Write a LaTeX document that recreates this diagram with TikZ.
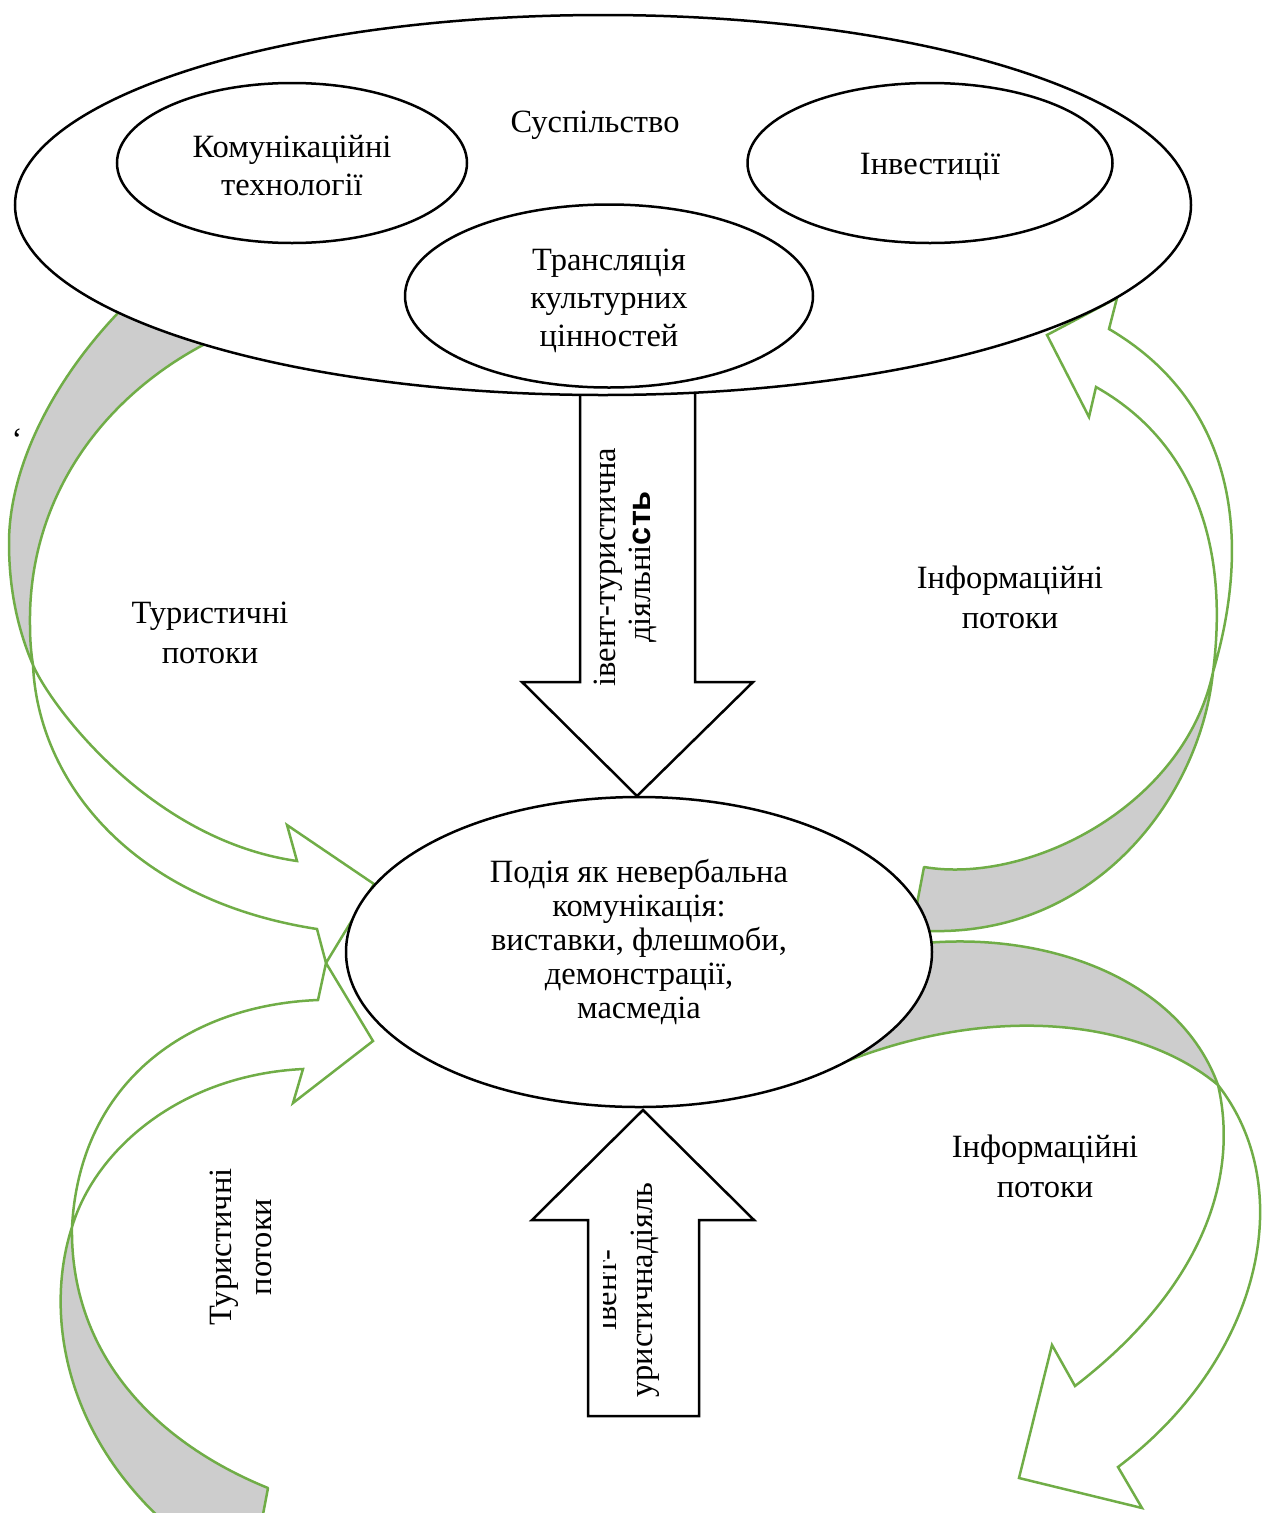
\documentclass[tikz,border=0pt]{standalone}
\usepackage{fontspec}
\setmainfont{Liberation Serif}
\newfontfamily\sansfam{Liberation Sans}
\usetikzlibrary{shapes.geometric}
\definecolor{flowgreen}{RGB}{112,173,71}
\definecolor{bandgray}{RGB}{205,205,205}
\newcommand\dfont{\fontsize{32.5}{38}\selectfont}
\newcommand\wfont{\fontsize{32.5}{40}\selectfont}
\newcommand\cfont{\fontsize{32.5}{34}\selectfont}
\begin{document}
\begin{tikzpicture}[x=1pt,y=-1pt,
  ell/.style={ellipse, draw=black, line width=2.5pt, fill=white, inner sep=0pt},
  flow/.style={draw=flowgreen, line width=2.5pt, line join=miter},
  band/.style={fill=bandgray, draw=flowgreen, line width=2.5pt, line join=round},
  blockarrow/.style={draw=black, line width=2.5pt, fill=white, line join=miter},
  lbl/.style={font=\dfont, align=center, inner sep=0pt},
  wlbl/.style={font=\wfont, align=center, inner sep=0pt},
  vlbl/.style={font=\dfont, inner sep=0pt, anchor=base, rotate=90}
]
\useasboundingbox (0,0) rectangle (1271,1513);
\clip (0,0) rectangle (1271,1513);

% ---- curved flow arrows ----
% top-left (tourist flows, down to the event)
\filldraw[band] (135,294) -- (117,314) .. controls (50,385) and (9,470) .. (9,543)
  .. controls (9,590) and (18,630) .. (33,665)
  .. controls (31,652) and (30,640) .. (30,625)
  .. controls (28,500) and (100,400) .. (203,345) -- (222,334) -- cycle;
\draw[flow] (33,665) .. controls (50,705) and (150,840) .. (297,861)
  -- (287,825) -- (374,884) -- (326,963) -- (317,929)
  .. controls (130,900) and (38,780) .. (33,665);

% bottom-left (tourist flows, up to the event)
\filldraw[band] (261,1525) -- (268,1488) .. controls (150,1440) and (70,1350) .. (72,1227)
  .. controls (45,1310) and (60,1440) .. (185,1540) -- cycle;
\draw[flow] (72,1227) .. controls (95,1150) and (180,1075) .. (303,1069)
  -- (293,1103) -- (373,1041) -- (326,963) -- (318,1000)
  .. controls (190,1005) and (80,1080) .. (72,1227);

% top-right (information flows, up to society)
\filldraw[band] (924,867) .. controls (1030,885) and (1185,805) .. (1213,672)
  .. controls (1200,800) and (1090,945) .. (912,930) -- cycle;
\draw[flow] (1213,672) .. controls (1255,530) and (1230,400) .. (1109,329)
  -- (1117,298) -- (1047,335) -- (1089,417) -- (1096,387)
  .. controls (1190,440) and (1230,540) .. (1213,672);

% bottom-right (information flows, out of the event)
\filldraw[band] (912,944) -- (925,943) .. controls (1050,932) and (1180,980) .. (1218,1085)
  .. controls (1140,1020) and (990,1000) .. (830,1068) -- cycle;
\draw[flow] (1218,1085) .. controls (1240,1180) and (1200,1290) .. (1075,1386)
  -- (1052,1345) -- (1019,1478) -- (1142,1508) -- (1118,1467)
  .. controls (1260,1360) and (1300,1190) .. (1218,1085);

% ---- block arrows ----
\draw[blockarrow] (580,392) -- (580,682) -- (522,682) -- (637,796) -- (753,682) -- (695,682) -- (695,392) -- cycle;
\draw[blockarrow] (588,1416) -- (588,1220) -- (532,1220) -- (643,1110) -- (754,1220) -- (699,1220) -- (699,1416) -- cycle;

% ---- ellipses ----
\node[ell, minimum width=1176pt, minimum height=380pt] (soc) at (603,205) {};
\node[ell, minimum width=350pt, minimum height=160pt] (komm) at (292,163) {};
\node[ell, minimum width=365pt, minimum height=160pt] (inv) at (930,163) {};
\node[ell, minimum width=408pt, minimum height=183pt] (trans) at (609,296) {};
\node[ell, minimum width=586pt, minimum height=310pt] (event) at (639,952) {};

% ---- texts ----
\node[lbl] (soclbl) at (595,125) {Суспільство};
\node[lbl] (kommlbl) at (292,166) {Комунікаційні\\технології};
\node[lbl] (invlbl) at (930,167) {Інвестиції};
\node[lbl] (translbl) at (609,301) {Трансляція\\культурних\\цінностей};
\node[font=\cfont, align=center, inner sep=0pt] (eventlbl) at (639,942) {Подія як невербальна\\комунікація:\\виставки, флешмоби,\\демонстрації,\\масмедіа};
\node[wlbl] (tourtop) at (210,633) {Туристичні\\потоки};
\node[wlbl] (infotop) at (1010,597) {Інформаційні\\потоки};
\node[wlbl] (infobot) at (1045,1166) {Інформаційні\\потоки};
\node[wlbl, rotate=90] (tourbot) at (241,1247) {Туристичні\\потоки};
\node[vlbl] (down1) at (615,567) {івент-туристична};
\node[vlbl] (down2) at (650,567) {діяльні{\sansfam\bfseries сть}};
\begin{scope}
  \clip (603,1100) rectangle (700,1420);
  \node[vlbl] (up1) at (616,1290) {івент-};
\end{scope}
\node[vlbl] (up2) at (652,1290) {уристичнадіяль};
\node[font=\dfont, inner sep=0pt] (tick) at (17,440) {‘};
\end{tikzpicture}
\end{document}
